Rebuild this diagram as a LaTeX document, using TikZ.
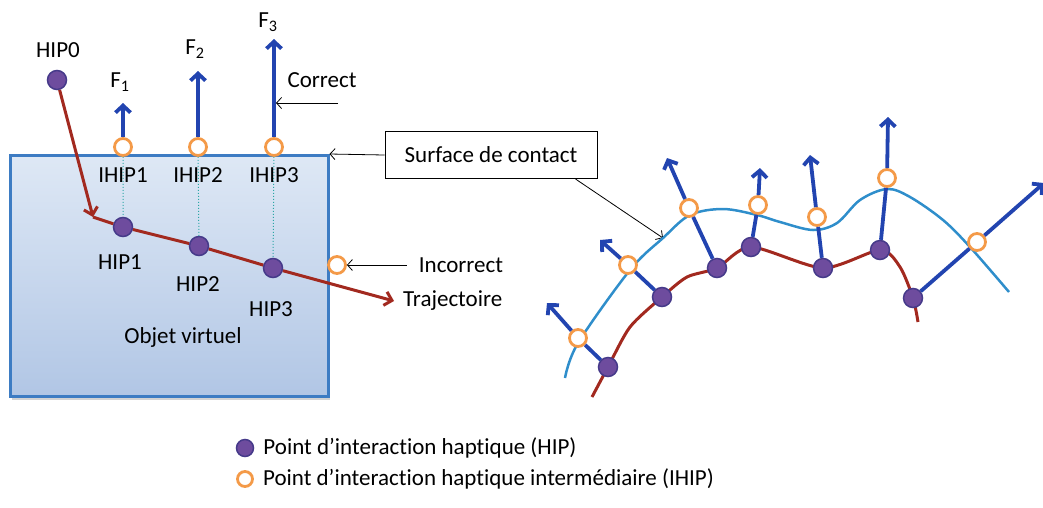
\documentclass[tikz,border=0pt]{standalone}
\usepackage{fontspec}
\setmainfont{Carlito}[Ligatures=NoCommon]
\usetikzlibrary{arrows.meta, shadows, positioning}
\definecolor{hipfill}{HTML}{6E4C9E}
\definecolor{hipline}{HTML}{463A8A}
\definecolor{ihipline}{HTML}{F49A48}
\definecolor{forceblue}{HTML}{2244B0}
\definecolor{trajred}{HTML}{A2291F}
\definecolor{surfblue}{HTML}{2F8ECB}
\definecolor{boxline}{HTML}{3D7CC3}
\definecolor{boxtop}{HTML}{DEE8F5}
\definecolor{boxbot}{HTML}{B1C6E5}
\definecolor{dotcyan}{HTML}{2BA6A6}
\tikzset{
  hip/.style={circle, draw=hipline, fill=hipfill, line width=1.5pt,
    minimum size=19pt, inner sep=0pt},
  ihip/.style={circle, draw=ihipline, fill=white, line width=2.8pt,
    minimum size=17pt, inner sep=0pt},
  force/.style={draw=forceblue, line width=3.8pt},
  forcetip/.style={force, -{Straight Barb[length=7pt, width=15pt]}},
  traj/.style={draw=trajred, line width=3pt},
  trajtip/.style={traj, -{Straight Barb[length=7pt, width=14pt]}},
  surface/.style={draw=surfblue, line width=2.5pt},
  pointer/.style={draw=black, line width=0.8pt,
    -{Straight Barb[length=5pt, width=11pt]}},
  lbl/.style={font=\fontsize{23}{26}\selectfont, inner sep=0pt},
  objbox/.style={draw=boxline, line width=3pt, top color=boxtop,
    bottom color=boxbot, minimum width=318pt, minimum height=241pt,
    drop shadow={opacity=0.35, shadow xshift=2pt, shadow yshift=-3pt}},
  surfbox/.style={draw=black, line width=1pt, fill=white,
    minimum width=212pt, minimum height=47pt, inner sep=0pt}
}
\begin{document}
\begin{tikzpicture}[x=1pt, y=-1pt]
  \useasboundingbox (0,0) rectangle (1043,507);

  % virtual object
  \node[objbox] (obj) at (169,276) {};
  \node[lbl] (objlbl) at (183,337) {Objet virtuel};

  % left: haptic points
  \node[hip] (hip0) at (57,80) {};
  \node[lbl] (hip0lbl) at (58,50) {HIP0};
  \node[ihip] (ihip1) at (123,147) {};
  \node[ihip] (ihip2) at (198,147) {};
  \node[ihip] (ihip3) at (274,147) {};
  \node[hip] (hip1) at (123,227) {};
  \node[hip] (hip2) at (199,246) {};
  \node[hip] (hip3) at (273,268) {};
  \node[ihip] (ibad) at (337,265) {};
  \coordinate (corner) at (93,217);
  \coordinate (trajend) at (394,301);
  \coordinate (f1) at (123,103);
  \coordinate (f2) at (198,71);
  \coordinate (f3) at (274,39);

  \draw[dotcyan, dotted, line width=1pt]
    (ihip1) -- (hip1)
    (ihip2) -- (hip2)
    (ihip3) -- (hip3);
  \draw[trajtip] (hip0) -- (corner);
  \draw[trajtip] (corner) -- (hip1) -- (hip2) -- (hip3) -- (trajend);
  \draw[forcetip] (ihip1) -- (f1);
  \draw[forcetip] (ihip2) -- (f2);
  \draw[forcetip] (ihip3) -- (f3);

  \node[lbl] at (120,82) {F\textsubscript{1}};
  \node[lbl] at (195,49) {F\textsubscript{2}};
  \node[lbl] at (268,22) {F\textsubscript{3}};
  \node[lbl] (ilbl1) at (123,175) {IHIP1};
  \node[lbl] (ilbl2) at (198,175) {IHIP2};
  \node[lbl] (ilbl3) at (274,175) {IHIP3};
  \node[lbl] (hlbl1) at (120,262) {HIP1};
  \node[lbl] (hlbl2) at (198,284) {HIP2};
  \node[lbl] (hlbl3) at (271,309) {HIP3};

  % annotations
  \node[lbl] (correct) at (322,80) {Correct};
  \coordinate (corrstart) at (338,103);
  \coordinate (corrend) at (276,103);
  \draw[pointer] (corrstart) -- (corrend);
  \node[lbl] (incorrect) at (461,265) {Incorrect};
  \draw[pointer] ([xshift=-12pt]incorrect.west) -- (ibad);
  \node[lbl, anchor=west] (trajlbl) at (403,301) {Trajectoire};
  \node[surfbox, lbl] (surf) at (491,155) {Surface de contact};
  \draw[pointer] (surf.west) -- (obj.north east);
  \coordinate (surfpt) at (663,238);
  \draw[pointer] ([xshift=-22pt]surf.south east) -- (surfpt);

  % right: curved surface
  \draw[surface] plot[smooth, tension=0.55] coordinates {
    (565,378) (578,343) (630,270) (663,238) (690,215) (723,209)
    (757,215) (780,222) (813,230) (837,223) (860,200) (887,189)
    (910,197) (943,220) (970,247) (1009,292)};
  \draw[traj] plot[smooth, tension=0.45] coordinates {
    (592,397) (608,367) (630,327) (662,297) (687,277) (717,268)
    (751,247) (823,268) (880,250) (900,267) (913,298) (918,322)};
  \foreach \n/\hx/\hy/\ix/\iy/\tx/\ty in {
      a/608/367/578/338/547/303,
      b/662/297/628/265/600/240,
      c/717/268/689/208/667/158,
      d/751/247/758/205/760/168,
      e/823/268/817/217/810/155,
      f/880/250/887/178/888/117,
      g/913/298/977/242/1044/183} {
    \node[hip] (h\n) at (\hx,\hy) {};
    \node[ihip] (i\n) at (\ix,\iy) {};
    \coordinate (t\n) at (\tx,\ty);
    \draw[force] (h\n) -- (i\n);
    \draw[forcetip] (i\n) -- (t\n);
  }

  % legend
  \node[hip, minimum size=17pt] (leghip) at (245,448) {};
  \node[lbl, right=9pt of leghip] {Point d’interaction haptique (HIP)};
  \node[ihip, minimum size=15pt] (legihip) at (245,479) {};
  \node[lbl, right=9pt of legihip] {Point d’interaction haptique intermédiaire (IHIP)};
\end{tikzpicture}
\end{document}
